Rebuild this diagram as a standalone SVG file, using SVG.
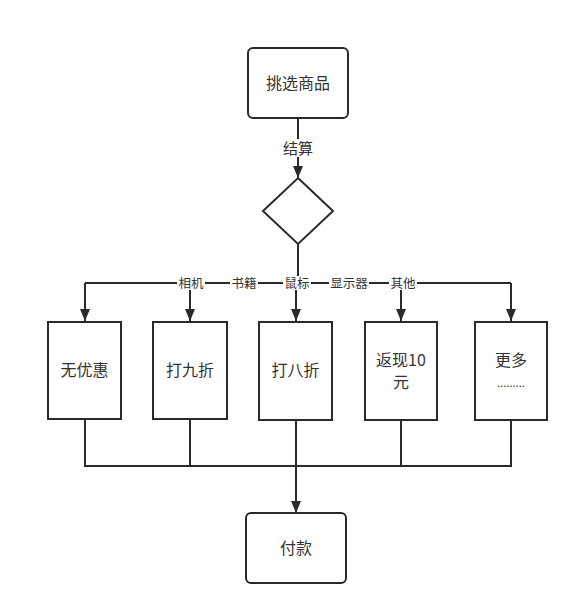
<svg xmlns="http://www.w3.org/2000/svg" width="579" height="614" viewBox="0 0 579 614">
<defs>
<marker id="ah" markerWidth="12" markerHeight="12" refX="12" refY="5" orient="auto" markerUnits="userSpaceOnUse">
<path d="M0,0 L12,5 L0,10 Z" fill="#2a2a2a"/>
</marker>
<style>
.box{fill:#fff;stroke:#2a2a2a;stroke-width:2}
.ln{fill:none;stroke:#2a2a2a;stroke-width:2}
.t{font-family:"Noto Sans CJK SC","Noto Sans",sans-serif;font-size:16px;fill:#333;text-anchor:middle}
.lb{font-family:"Noto Sans CJK SC","Noto Sans",sans-serif;font-size:12.5px;fill:#333;text-anchor:middle}
.bg{fill:#fff}
</style>
</defs>
<rect width="579" height="614" fill="#fff"/>
<g id="connectors">
<path class="ln" d="M298,118 V178" marker-end="url(#ah)"/>
<rect class="bg" x="280" y="139" width="36" height="18"/>
<text class="lb" x="298" y="154" style="font-size:15px">结算</text>
<path class="ln" d="M298,244 V283"/>
<path class="ln" d="M85,283 H511"/>
<path class="ln" d="M85,283 V321" marker-end="url(#ah)"/>
<path class="ln" d="M190,283 V321" marker-end="url(#ah)"/>
<path class="ln" d="M296,283 V321" marker-end="url(#ah)"/>
<path class="ln" d="M401,283 V321" marker-end="url(#ah)"/>
<path class="ln" d="M511,283 V321" marker-end="url(#ah)"/>
<rect class="bg" x="177" y="276" width="28" height="14"/>
<text class="lb" x="191" y="288">相机</text>
<rect class="bg" x="230" y="276" width="28" height="14"/>
<text class="lb" x="244" y="288">书籍</text>
<rect class="bg" x="283" y="276" width="28" height="14"/>
<text class="lb" x="297" y="288">鼠标</text>
<rect class="bg" x="329" y="276" width="40" height="14"/>
<text class="lb" x="349" y="288">显示器</text>
<rect class="bg" x="389" y="276" width="28" height="14"/>
<text class="lb" x="403" y="288">其他</text>
<path class="ln" d="M85,419 V466 H511 V419"/>
<path class="ln" d="M190,419 V466"/>
<path class="ln" d="M296,420 V466"/>
<path class="ln" d="M401,420 V466"/>
<path class="ln" d="M296,466 V513" marker-end="url(#ah)"/>
</g>
<g id="n-start">
<rect class="box" x="248" y="48" width="100" height="70" rx="5"/>
<text class="t" x="298" y="89">挑选商品</text>
</g>
<g id="n-decision">
<path class="box" d="M298,178 L333,211 L298,244 L263,211 Z"/>
</g>
<g id="n-none">
<rect class="box" x="48" y="322" width="73" height="97"/>
<text class="t" x="84.5" y="376">无优惠</text>
</g>
<g id="n-90">
<rect class="box" x="153" y="322" width="74" height="97"/>
<text class="t" x="190" y="376">打九折</text>
</g>
<g id="n-80">
<rect class="box" x="259" y="322" width="73" height="98"/>
<text class="t" x="295.5" y="376">打八折</text>
</g>
<g id="n-cash">
<rect class="box" x="365" y="322" width="72" height="98"/>
<text class="t" x="401" y="366">返现10</text>
<text class="t" x="401" y="388">元</text>
</g>
<g id="n-more">
<rect class="box" x="475" y="322" width="72" height="98"/>
<text class="t" x="511" y="366">更多</text>
<text class="t" x="511" y="387" style="font-size:11px">.........</text>
</g>
<g id="n-pay">
<rect class="box" x="246" y="513" width="100" height="70" rx="5"/>
<text class="t" x="296" y="554">付款</text>
</g>
</svg>
